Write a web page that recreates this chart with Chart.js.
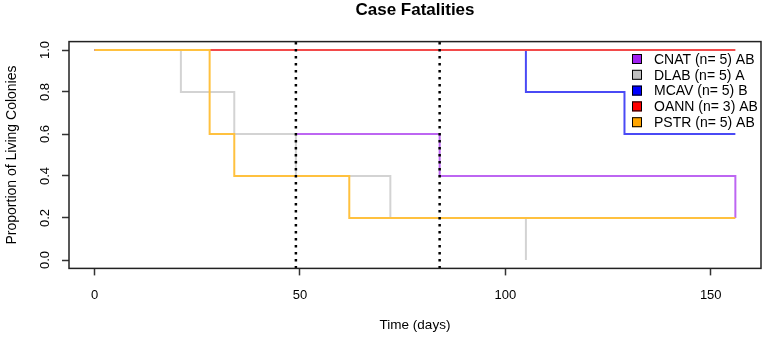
<!DOCTYPE html>
<html>
<head>
<meta charset="utf-8">
<title>Case Fatalities</title>
<script src="https://cdn.jsdelivr.net/npm/chart.js@4/dist/chart.umd.min.js"></script>
<style>
  html, body { margin: 0; padding: 0; background: #fff; }
  #wrap { width: 765px; height: 337px; }
</style>
</head>
<body>
<div id="wrap"><canvas id="chart" width="765" height="337"></canvas></div>
<script>
// Kaplan-Meier style step curves, one per species
const species = ["CNAT", "DLAB", "MCAV", "OANN", "PSTR"];
const sampleSizes = [5, 5, 5, 3, 5];
const groupLetters = ["AB", "A", "B", "AB", "AB"];
const legendColors = ["#A020F0", "#C0C0C0", "#0000FF", "#FF0000", "#FFA500"];
const lineColors = ["#BD66F2", "#D3D3D3", "#4A4AF5", "#F24A4A", "#FFC13F"];

const cnatDays = [49, 84, 156];
const cnatProp = [0.6, 0.4, 0.2];
const dlabDays = [0, 21, 34, 49, 72, 105];
const dlabProp = [1, 0.8, 0.6, 0.4, 0.2, 0];
const mcavDays = [0, 105, 129, 156];
const mcavProp = [1, 0.8, 0.6, 0.6];
const oannDays = [0, 156];
const oannProp = [1, 1];
const pstrDays = [0, 28, 34, 62, 156];
const pstrProp = [1, 0.6, 0.4, 0.2, 0.2];

// dotted reference lines (days)
const markerDays = [49, 84];

const xTicks = [0, 50, 100, 150];
const yTicks = [0, 0.2, 0.4, 0.6, 0.8, 1.0];

const seriesDays = [cnatDays, dlabDays, mcavDays, oannDays, pstrDays];
const seriesProp = [cnatProp, dlabProp, mcavProp, oannProp, pstrProp];

const font = "'Liberation Sans', Arial, sans-serif";

// lower order is drawn on top in Chart.js, so the last species gets the lowest
const datasets = species.map((name, i) => ({
  label: `${name} (n= ${sampleSizes[i]}) ${groupLetters[i]}`,
  data: seriesDays[i].map((d, k) => ({ x: d, y: seriesProp[i][k] })),
  stepped: true,
  borderColor: lineColors[i],
  borderWidth: 2,
  pointRadius: 0,
  fill: false,
  order: species.length - i
}));

markerDays.forEach(d => {
  datasets.push({
    label: "",
    data: [{ x: d, y: -0.04 }, { x: d, y: 1.04 }],
    borderColor: "#000",
    borderWidth: 2.5,
    borderDash: [2.5, 4.5],
    pointRadius: 0,
    fill: false,
    order: -1
  });
});

// box around the plot region
const frameBox = {
  id: "frameBox",
  afterDraw(chart) {
    const { ctx, chartArea: a } = chart;
    ctx.save();
    ctx.strokeStyle = "#222";
    ctx.lineWidth = 1.5;
    ctx.strokeRect(a.left, a.top, a.right - a.left, a.bottom - a.top);
    ctx.restore();
  }
};

// R-style legend inside the top-right corner
const insideLegend = {
  id: "insideLegend",
  afterDraw(chart) {
    const { ctx } = chart;
    ctx.save();
    ctx.font = `14px ${font}`;
    ctx.textBaseline = "middle";
    ctx.textAlign = "left";
    species.forEach((name, i) => {
      const y = 59 + i * 15.8;
      ctx.fillStyle = legendColors[i];
      ctx.fillRect(632, y - 5, 10, 10);
      ctx.strokeStyle = "#000";
      ctx.lineWidth = 1;
      ctx.strokeRect(632.5, y - 4.5, 9, 9);
      ctx.fillStyle = "#000";
      ctx.fillText(`${name} (n= ${sampleSizes[i]}) ${groupLetters[i]}`, 654, y + 1);
    });
    ctx.restore();
  }
};

new Chart(document.getElementById("chart"), {
  type: "line",
  data: { datasets },
  options: {
    responsive: false,
    animation: false,
    layout: { padding: { top: 0, right: 4, bottom: 0, left: 0 } },
    plugins: {
      legend: { display: false },
      tooltip: { enabled: false },
      title: {
        display: true,
        text: "Case Fatalities",
        fullSize: false,
        color: "#000",
        font: { family: font, size: 17, weight: "bold", lineHeight: 1.2 },
        padding: { top: 0, bottom: 21.2 }
      }
    },
    scales: {
      x: {
        type: "linear",
        min: -6.24,
        max: 162.24,
        afterFit(scale) { scale.height = 68.6; },
        afterBuildTicks(scale) { scale.ticks = xTicks.map(v => ({ value: v })); },
        grid: { drawOnChartArea: false, drawTicks: true, tickLength: 7, tickColor: "#333", tickWidth: 1.5 },
        border: { display: false },
        ticks: {
          color: "#000",
          padding: 12,
          maxRotation: 0,
          font: { family: font, size: 13 }
        },
        title: {
          display: true,
          text: "Time (days)",
          color: "#000",
          font: { family: font, size: 13.5 },
          padding: { top: 4, bottom: 4 }
        }
      },
      y: {
        type: "linear",
        min: -0.04,
        max: 1.04,
        afterFit(scale) { scale.width = 69; },
        afterBuildTicks(scale) { scale.ticks = yTicks.map(v => ({ value: v })); },
        grid: { drawOnChartArea: false, drawTicks: true, tickLength: 7, tickColor: "#333", tickWidth: 1.5 },
        border: { display: false },
        ticks: {
          color: "#000",
          padding: 8,
          minRotation: 90,
          maxRotation: 90,
          crossAlign: "center",
          font: { family: font, size: 13 },
          callback: v => Number(v).toFixed(1)
        },
        title: {
          display: true,
          text: "Proportion of Living Colonies",
          color: "#000",
          font: { family: font, size: 14 },
          padding: { top: 4, bottom: 4 }
        }
      }
    }
  },
  plugins: [frameBox, insideLegend]
});
</script>
</body>
</html>
